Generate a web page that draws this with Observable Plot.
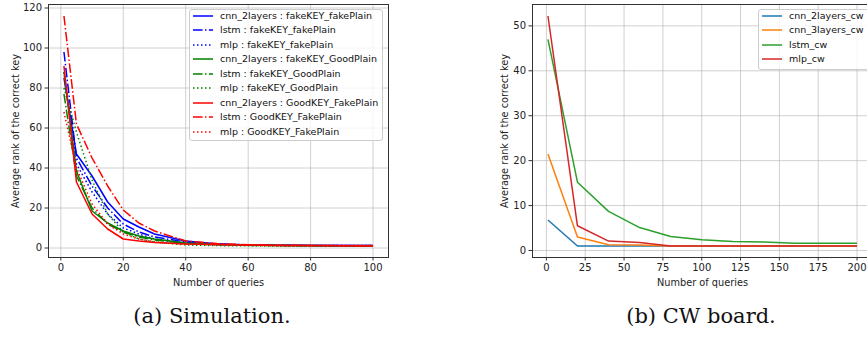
<!DOCTYPE html>
<html>
<head>
<meta charset="utf-8">
<script src="https://cdn.jsdelivr.net/npm/d3@7"></script>
<script src="https://cdn.jsdelivr.net/npm/@observablehq/plot@0.6"></script>
<style>
  html, body { margin: 0; padding: 0; background: #fff; }
  #page { position: relative; width: 867px; height: 339px; overflow: hidden; font-family: "DejaVu Sans", sans-serif; }
  .panel { position: absolute; top: 0; }
  .panel svg { max-width: none !important; }
  .legend { position: absolute; border: 1px solid #cccccc; border-radius: 3px; background: rgba(255,255,255,0.8); box-sizing: border-box; }
  .lrow { position: absolute; font-size: 9.5px; color: #111; white-space: nowrap; line-height: 12px; }
  .lrow svg { position: absolute; left: 0; top: 0; }
  .lrow span { position: absolute; top: 0; }
  .caption { position: absolute; top: 304px; font-family: "DejaVu Serif", serif; font-size: 21px; color: #111; transform: translateX(-50%); white-space: nowrap; }
</style>
</head>
<body>
<div id="page"></div>
<script>
// ---------- Data: (a) Simulation ----------
const simQueries = [1, 5, 10, 15, 20, 25, 30, 40, 50, 60, 70, 80, 90, 100];
const cnnFakeKeyFakePlain = [85, 47, 36, 23, 14.5, 10.5, 7, 3.5, 2, 1.5, 1.4, 1.3, 1.2, 1.2];
const lstmFakeKeyFakePlain = [98, 45, 31, 20, 12, 8, 5.5, 3, 2, 1.5, 1.4, 1.3, 1.2, 1.2];
const mlpFakeKeyFakePlain = [88, 42, 28, 17, 10, 7, 4.5, 2.5, 1.8, 1.4, 1.3, 1.2, 1.2, 1.1];
const cnnFakeKeyGoodPlain = [88, 38.5, 18.5, 12.5, 8.5, 6, 4.5, 2.5, 1.8, 1.5, 1.3, 1.2, 1.1, 1.1];
const lstmFakeKeyGoodPlain = [77, 36, 20, 12, 8, 5.5, 4, 2.2, 1.6, 1.3, 1.2, 1.1, 1.1, 1.1];
const mlpFakeKeyGoodPlain = [80, 58, 34, 17, 8, 4.5, 3, 1.5, 1.2, 1.1, 1, 1, 1, 1];
const cnnGoodKeyFakePlain = [91, 33, 17, 9.5, 4.5, 3.5, 2.8, 2, 1.7, 1.5, 1.3, 1.2, 1.1, 1];
const lstmGoodKeyFakePlain = [116, 62, 45, 31, 19, 12.5, 8.5, 3.5, 2.2, 1.6, 1.4, 1.3, 1.2, 1.2];
const mlpGoodKeyFakePlain = [68, 40, 22, 12, 7, 4.5, 3, 2, 1.6, 1.4, 1.2, 1.1, 1.1, 1];
const simLabels = [
  "cnn_2layers : fakeKEY_fakePlain", "lstm : fakeKEY_fakePlain", "mlp : fakeKEY_fakePlain",
  "cnn_2layers : fakeKEY_GoodPlain", "lstm : fakeKEY_GoodPlain", "mlp : fakeKEY_GoodPlain",
  "cnn_2layers : GoodKEY_FakePlain", "lstm : GoodKEY_FakePlain", "mlp : GoodKEY_FakePlain"
];
const simXTicks = [0, 20, 40, 60, 80, 100];
const simYTicks = [0, 20, 40, 60, 80, 100, 120];

// ---------- Data: (b) CW board ----------
const cwQueries = [1, 20, 40, 60, 80, 100, 120, 140, 160, 180, 200];
const cnn2layersCw = [6.8, 1, 1, 1, 1, 1, 1, 1, 1, 1, 1];
const cnn3layersCw = [21.5, 3, 1.3, 1.2, 1, 1, 1, 1, 1, 1, 1];
const lstmCw = [47, 15.2, 8.7, 5.1, 3.1, 2.4, 2.0, 1.9, 1.6, 1.6, 1.6];
const mlpCw = [52.2, 5.5, 2.1, 1.8, 1, 1, 1, 1, 1, 1, 1];
const cwLabels = ["cnn_2layers_cw", "cnn_3layers_cw", "lstm_cw", "mlp_cw"];
const cwXTicks = [0, 25, 50, 75, 100, 125, 150, 175, 200];
const cwYTicks = [0, 10, 20, 30, 40, 50];

const captions = ["(a) Simulation.", "(b) CW board."];
const yLabel = "Average rank of the correct key";
const xLabel = "Number of queries";

// ---------- Styles ----------
const DASHDOT = "9.6,2.4,1.5,2.4";
const DOT = "1.5,2.5";
const simValues = [cnnFakeKeyFakePlain, lstmFakeKeyFakePlain, mlpFakeKeyFakePlain,
  cnnFakeKeyGoodPlain, lstmFakeKeyGoodPlain, mlpFakeKeyGoodPlain,
  cnnGoodKeyFakePlain, lstmGoodKeyFakePlain, mlpGoodKeyFakePlain];
const simColors = ["#0000ff", "#0000ff", "#0000ff", "#008000", "#008000", "#008000", "#ff0000", "#ff0000", "#ff0000"];
const simDash = [null, DASHDOT, DOT, null, DASHDOT, DOT, null, DASHDOT, DOT];
const cwValues = [cnn2layersCw, cnn3layersCw, lstmCw, mlpCw];
const cwColors = ["#1f77b4", "#ff7f0e", "#2ca02c", "#d62728"];

const page = document.getElementById("page");
const baseStyle = { fontFamily: "DejaVu Sans", fontSize: "10px", color: "#222", background: "transparent", overflow: "visible", maxWidth: "none" };

function makePanel(opts) {
  const marks = [
    Plot.gridX(opts.xTicks, { stroke: "#b0b0b0", strokeOpacity: 0.6, strokeWidth: 1 }),
    Plot.gridY(opts.yTicks, { stroke: "#b0b0b0", strokeOpacity: 0.6, strokeWidth: 1 }),
  ];
  opts.values.forEach((vals, i) => {
    const rows = opts.xs.map((q, j) => ({ q, v: vals[j] }));
    marks.push(Plot.line(rows, {
      x: "q", y: "v", stroke: opts.colors[i], strokeWidth: 1.5,
      strokeDasharray: opts.dash ? opts.dash[i] : null, strokeLinecap: "butt", strokeLinejoin: "round"
    }));
  });
  marks.push(Plot.frame({ stroke: "#333", strokeWidth: 1 }));
  marks.push(Plot.axisX(opts.xTicks, { tickSize: 3.5, tickPadding: 3, fill: "#222", stroke: "#333", label: null }));
  marks.push(Plot.axisX({ ticks: [], tickSize: 0, label: xLabel, labelAnchor: "center", labelArrow: "none", labelOffset: 28, fill: "#222", fontSize: 9.75 }));
  marks.push(Plot.axisY(opts.yTicks, { tickSize: 3.5, tickPadding: 3, fill: "#222", stroke: "#333", label: null }));
  marks.push(Plot.axisY({ ticks: [], tickSize: 0, label: yLabel, labelAnchor: "center", labelArrow: "none", labelOffset: opts.labelOffsetY, fill: "#222", fontSize: 9.75 }));
  const svg = Plot.plot({
    width: opts.width, height: 295,
    marginLeft: opts.marginLeft, marginRight: opts.marginRight, marginTop: 4, marginBottom: 38,
    x: { domain: opts.xDomain }, y: { domain: opts.yDomain },
    style: baseStyle,
    marks
  });
  svg.style.maxWidth = "none";
  svg.style.width = opts.width + "px";
  svg.style.height = "295px";
  const wrap = document.createElement("div");
  wrap.className = "panel";
  wrap.style.left = opts.left + "px";
  wrap.style.width = opts.width + "px";
  wrap.appendChild(svg);
  page.appendChild(wrap);
}

makePanel({ left: 0, width: 430, marginLeft: 48, marginRight: 42, xDomain: [-3.95, 104.95], yDomain: [-4.75, 121.75],
  xs: simQueries, values: simValues, colors: simColors, dash: simDash, xTicks: simXTicks, yTicks: simYTicks, labelOffsetY: 36 });
makePanel({ left: 440, width: 440, marginLeft: 92, marginRight: 8, xDomain: [-8.95, 209.95], yDomain: [-1.56, 54.76],
  xs: cwQueries, values: cwValues, colors: cwColors, dash: null, xTicks: cwXTicks, yTicks: cwYTicks, labelOffsetY: 31 });

function makeLegend(left, top, width, height, labels, colors, dashes) {
  const box = document.createElement("div");
  box.className = "legend";
  Object.assign(box.style, { left: left + "px", top: top + "px", width: width + "px", height: height + "px" });
  page.appendChild(box);
  labels.forEach((lab, i) => {
    const row = document.createElement("div");
    row.className = "lrow";
    const cy = top + 7 + i * 14.45;
    Object.assign(row.style, { left: (left + 3) + "px", top: (cy - 6) + "px", width: "200px", height: "12px" });
    const dash = dashes && dashes[i] ? ` stroke-dasharray="${dashes[i]}"` : "";
    row.innerHTML = `<svg width="22" height="12"><line x1="1" x2="21" y1="6" y2="6" stroke="${colors[i]}" stroke-width="1.5"${dash}/></svg><span style="left:28px"></span>`;
    row.querySelector("span").textContent = lab;
    page.appendChild(row);
  });
}
makeLegend(189, 9, 194, 132, simLabels, simColors, simDash);
makeLegend(758, 9, 120, 61, cwLabels, cwColors, null);

captions.forEach((c, i) => {
  const d = document.createElement("div");
  d.className = "caption";
  d.style.left = (i === 0 ? 212 : 701) + "px";
  d.textContent = c;
  page.appendChild(d);
});
</script>
</body>
</html>
